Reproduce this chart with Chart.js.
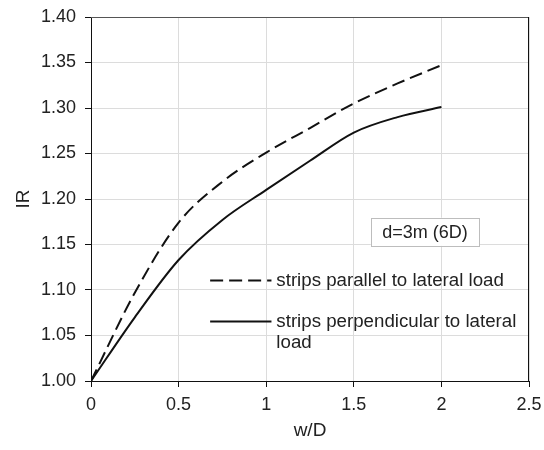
<!DOCTYPE html>
<html>
<head>
<meta charset="utf-8">
<script src="https://cdn.jsdelivr.net/npm/chart.js@4/dist/chart.umd.min.js"></script>
<style>
  html, body { margin: 0; padding: 0; background: #fff; }
  #wrap { width: 544px; height: 450px; position: relative; }
</style>
</head>
<body>
<div id="wrap"><canvas id="c" width="544" height="450"></canvas></div>
<script>
// ---- data ----
const wD = [0, 0.25, 0.5, 0.75, 1.0, 1.25, 1.5, 1.75, 2.0];
const irParallel = [1.000, 1.097, 1.174, 1.219, 1.251, 1.278, 1.305, 1.327, 1.347];
const irPerpendicular = [1.000, 1.070, 1.133, 1.177, 1.210, 1.242, 1.273, 1.290, 1.301];
const seriesLabels = ['strips parallel to lateral load', ['strips perpendicular to lateral', 'load']];
const annotationText = 'd=3m (6D)';
const xTitle = 'w/D';
const yTitle = 'IR';

const FONT = "'Liberation Sans', Arial, sans-serif";
const TXT = '#222';

const toPoints = (xs, ys) => xs.map((x, i) => ({x: x, y: ys[i]}));

const framePlugin = {
  id: 'frame',
  afterDatasetsDraw(chart) {
    const {ctx, chartArea: a} = chart;
    ctx.save();
    ctx.setLineDash([]);
    ctx.lineWidth = 1;
    ctx.strokeStyle = '#555';
    ctx.beginPath();
    ctx.moveTo(a.left, a.top + 0.5);
    ctx.lineTo(a.right, a.top + 0.5);
    ctx.stroke();
    ctx.strokeStyle = '#111';
    ctx.beginPath();
    ctx.moveTo(a.right - 0.5, a.top);
    ctx.lineTo(a.right - 0.5, a.bottom);
    ctx.stroke();
    ctx.restore();
  }
};

const legendPlugin = {
  id: 'insideLegend',
  afterDraw(chart) {
    const {ctx} = chart;
    const xs = chart.scales.x, ys = chart.scales.y;
    ctx.save();
    // annotation box
    const bx0 = xs.getPixelForValue(1.597), bx1 = xs.getPixelForValue(2.215);
    const by0 = ys.getPixelForValue(1.1795), by1 = ys.getPixelForValue(1.1485);
    ctx.fillStyle = '#fff';
    ctx.fillRect(bx0, by0, bx1 - bx0, by1 - by0);
    ctx.strokeStyle = '#bdbdbd';
    ctx.lineWidth = 1;
    ctx.strokeRect(Math.round(bx0) + 0.5, Math.round(by0) + 0.5, Math.round(bx1 - bx0), Math.round(by1 - by0));
    ctx.fillStyle = TXT;
    ctx.font = '18px ' + FONT;
    ctx.textAlign = 'center';
    ctx.textBaseline = 'middle';
    ctx.fillText(annotationText, (bx0 + bx1) / 2, (by0 + by1) / 2 + 1);

    // legend entries
    const lx0 = xs.getPixelForValue(0.68), lx1 = xs.getPixelForValue(1.03);
    const tx = xs.getPixelForValue(1.058);
    const rows = [1.1105, 1.0655];
    chart.data.datasets.forEach((ds, i) => {
      const y = Math.round(ys.getPixelForValue(rows[i])) + 0.5;
      ctx.strokeStyle = ds.borderColor;
      ctx.lineWidth = ds.borderWidth;
      ctx.setLineDash(ds.borderDash || []);
      ctx.beginPath();
      ctx.moveTo(lx0, y);
      ctx.lineTo(lx1, y);
      ctx.stroke();
      ctx.setLineDash([]);
      ctx.fillStyle = TXT;
      ctx.font = '18.7px ' + FONT;
      ctx.textAlign = 'left';
      ctx.textBaseline = 'middle';
      const lines = Array.isArray(ds.label) ? ds.label : [ds.label];
      lines.forEach((t, k) => ctx.fillText(t, tx, y + k * 21));
    });
    ctx.restore();
  }
};

new Chart(document.getElementById('c'), {
  type: 'line',
  data: {
    datasets: [
      {
        label: seriesLabels[0],
        data: toPoints(wD, irParallel),
        borderColor: '#111',
        borderWidth: 2,
        borderDash: [13, 6],
        pointRadius: 0,
        fill: false,
        cubicInterpolationMode: 'monotone'
      },
      {
        label: seriesLabels[1],
        data: toPoints(wD, irPerpendicular),
        borderColor: '#111',
        borderWidth: 2,
        pointRadius: 0,
        fill: false,
        cubicInterpolationMode: 'monotone'
      }
    ]
  },
  options: {
    responsive: false,
    animation: false,
    devicePixelRatio: 1,
    layout: { padding: { left: 0, right: 15, top: 17, bottom: 0 } },
    plugins: {
      legend: { display: false },
      tooltip: { enabled: false },
      title: { display: false }
    },
    scales: {
      x: {
        type: 'linear',
        min: 0, max: 2.5,
        ticks: {
          stepSize: 0.5,
          color: TXT,
          font: { family: FONT, size: 18 },
          padding: 7,
          maxRotation: 0,
          callback: v => String(v)
        },
        grid: { color: '#dcdcdc', tickColor: '#111', tickLength: 6, lineWidth: 1 },
        border: { color: '#111', width: 1 },
        title: {
          display: true, text: xTitle, color: TXT,
          font: { family: FONT, size: 19 },
          padding: { top: 0, bottom: 8 }
        },
        afterFit(scale) {
          scale.height = 69;
          scale.paddingLeft = 0; scale.paddingRight = 0;
        }
      },
      y: {
        type: 'linear',
        min: 1.0, max: 1.4,
        ticks: {
          stepSize: 0.05,
          color: TXT,
          font: { family: FONT, size: 18 },
          padding: 9,
          callback: v => v.toFixed(2)
        },
        grid: { color: '#dcdcdc', tickColor: '#111', tickLength: 6, lineWidth: 1 },
        border: { color: '#111', width: 1 },
        title: {
          display: true, text: yTitle, color: TXT,
          font: { family: FONT, size: 19 },
          padding: { top: 12, bottom: 0 }
        },
        afterFit(scale) {
          scale.width = 91;
          scale.paddingTop = 0; scale.paddingBottom = 0;
        }
      }
    }
  },
  plugins: [framePlugin, legendPlugin]
});
</script>
</body>
</html>
